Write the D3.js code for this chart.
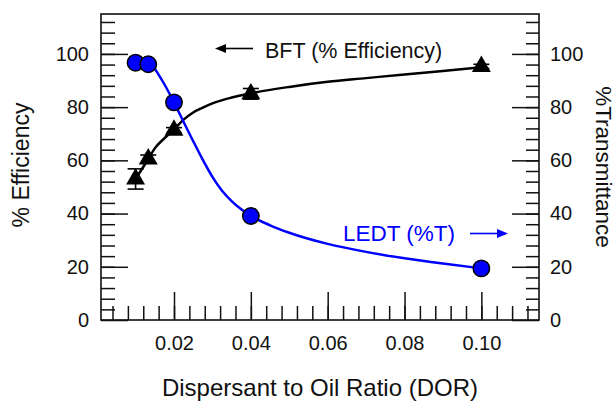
<!DOCTYPE html>
<html>
<head>
<meta charset="utf-8">
<script src="https://cdn.jsdelivr.net/npm/d3@7"></script>
<style>
  body { margin: 0; background: #fff; }
  svg { display: block; font-family: "Liberation Sans", Arial, sans-serif; }
</style>
</head>
<body>
<svg id="chart" width="616" height="401"></svg>
<script>
// measured points
var dor = [0.010, 0.0133, 0.020, 0.040, 0.100];
var bft = [53, 60.5, 71.3, 85, 95.3];
var bftErr = [3.8, 1.5, 1.0, 2.0, 0.8];
var ledt = [96.7, 96.1, 81.8, 39.1, 19.4];

// fitted curves
var bftFitX = [0.010, 0.0133, 0.015, 0.0175, 0.020, 0.0225, 0.025, 0.0275, 0.030, 0.035, 0.040, 0.050, 0.060, 0.070, 0.080, 0.090, 0.100];
var bftFitY = [53, 60.5, 64.5, 68.3, 71.6, 75.3, 78, 79.8, 81.4, 83.6, 85.2, 87.6, 89.5, 90.9, 92.3, 93.6, 95.0];
var ledtFitX = [0.0150, 0.0175, 0.020, 0.0225, 0.025, 0.0275, 0.030, 0.0325, 0.035, 0.0375, 0.040, 0.045, 0.050, 0.060, 0.070, 0.080, 0.090, 0.100];
var ledtFitY = [94.5, 88.6, 81.8, 74.4, 67.2, 60.2, 53.8, 48.6, 44.7, 41.6, 39.1, 35.6, 32.8, 28.6, 25.6, 23.2, 21.2, 19.4];

var yTicks = [0, 20, 40, 60, 80, 100];
var xTicks = [0.02, 0.04, 0.06, 0.08, 0.10];
var xMinor = d3.range(1, 29).map(function(i) { return i * 0.004; });
var yMinor = d3.range(1, 29).map(function(i) { return i * 4; });

var pLeft = 101, pRight = 539, pTop = 14, pBottom = 320;
var ink = "#111";

var svg = d3.select("#chart");

var x = d3.scaleLinear().domain([0.001, 0.115]).range([pLeft, pRight]);
var y = d3.scaleLinear().domain([0, 115]).range([pBottom, pTop]);

// minor ticks (inside)
svg.append("g")
  .attr("transform", "translate(0," + pBottom + ")")
  .call(d3.axisBottom(x).tickValues(xMinor).tickSize(-14).tickFormat(""));
svg.append("g")
  .attr("transform", "translate(" + pLeft + ",0)")
  .call(d3.axisLeft(y).tickValues(yMinor).tickSize(-14).tickFormat(""));
svg.append("g")
  .attr("transform", "translate(" + pRight + ",0)")
  .call(d3.axisRight(y).tickValues(yMinor).tickSize(-13).tickFormat(""));

// major ticks
var xAxis = svg.append("g")
  .attr("transform", "translate(0," + pBottom + ")")
  .call(d3.axisBottom(x).tickValues(xTicks).tickSize(-28).tickPadding(0)
    .tickFormat(d3.format(".2f")));
xAxis.selectAll("text").attr("y", 30).attr("dy", 0);

var yAxisL = svg.append("g")
  .attr("transform", "translate(" + pLeft + ",0)")
  .call(d3.axisLeft(y).tickValues(yTicks).tickSize(-27).tickFormat(d3.format("d")));
yAxisL.selectAll("text").attr("x", -12);

var yAxisR = svg.append("g")
  .attr("transform", "translate(" + pRight + ",0)")
  .call(d3.axisRight(y).tickValues(yTicks).tickSize(-27).tickFormat(d3.format("d")));
yAxisR.selectAll("text").attr("x", 11);

svg.selectAll(".domain").remove();
svg.selectAll(".tick line").attr("stroke", ink).attr("stroke-width", 1.5);
svg.selectAll(".tick text")
  .attr("fill", ink)
  .style("font-size", "20px")
  .style("font-family", "Liberation Sans, Arial, sans-serif");

// frame
svg.append("rect")
  .attr("x", pLeft).attr("y", pTop)
  .attr("width", pRight - pLeft).attr("height", pBottom - pTop)
  .attr("fill", "none").attr("stroke", ink).attr("stroke-width", 1.6);

// axis titles
svg.append("text")
  .attr("x", (pLeft + pRight) / 2).attr("y", 396)
  .attr("text-anchor", "middle")
  .style("font-size", "24px").attr("fill", ink)
  .text("Dispersant to Oil Ratio (DOR)");

svg.append("text")
  .attr("transform", "translate(29,165) rotate(-90)")
  .attr("text-anchor", "middle")
  .style("font-size", "23px").attr("fill", ink)
  .text("% Efficiency");

svg.append("text")
  .attr("transform", "translate(596,167) rotate(90)")
  .attr("text-anchor", "middle")
  .style("font-size", "22.5px").attr("fill", ink)
  .text("%Transmittance");

// fitted curves
var line = d3.line()
  .x(function(d) { return x(d[0]); })
  .y(function(d) { return y(d[1]); })
  .curve(d3.curveMonotoneX);

svg.append("path")
  .datum(d3.zip(bftFitX, bftFitY))
  .attr("d", line)
  .attr("fill", "none").attr("stroke", "#000").attr("stroke-width", 2.5);

svg.append("path")
  .datum(d3.zip(ledtFitX, ledtFitY))
  .attr("d", line)
  .attr("fill", "none").attr("stroke", "#0000ff").attr("stroke-width", 2.5);

// error bars
var bftData = dor.map(function(d, i) { return { x: d, y: bft[i], e: bftErr[i] }; });
var eb = svg.append("g").attr("stroke", "#000").attr("stroke-width", 1.6);
bftData.forEach(function(d) {
  eb.append("line")
    .attr("x1", x(d.x)).attr("x2", x(d.x))
    .attr("y1", y(d.y - d.e)).attr("y2", y(d.y + d.e));
  [d.y - d.e, d.y + d.e].forEach(function(v) {
    eb.append("line")
      .attr("x1", x(d.x) - 8).attr("x2", x(d.x) + 8)
      .attr("y1", y(v)).attr("y2", y(v));
  });
});

// BFT triangles
svg.append("g").selectAll("path")
  .data(bftData)
  .enter().append("path")
  .attr("transform", function(d) { return "translate(" + x(d.x) + "," + y(d.y) + ")"; })
  .attr("d", d3.symbol().type(d3.symbolTriangle).size(155))
  .attr("fill", "#000");

// LEDT circles
svg.append("g").selectAll("circle")
  .data(d3.zip(dor, ledt))
  .enter().append("circle")
  .attr("cx", function(d) { return x(d[0]); })
  .attr("cy", function(d) { return y(d[1]); })
  .attr("r", 8.2)
  .attr("fill", "#0000ff")
  .attr("stroke", "#000").attr("stroke-width", 1.5);

// annotations
function arrow(x1, x2, yy, color) {
  var dir = x2 > x1 ? 1 : -1;
  svg.append("line")
    .attr("x1", x1).attr("x2", x2 - dir * 8)
    .attr("y1", yy).attr("y2", yy)
    .attr("stroke", color).attr("stroke-width", 1.6);
  svg.append("path")
    .attr("d", "M" + x2 + "," + yy + "L" + (x2 - dir * 11) + "," + (yy - 4.5) +
      "L" + (x2 - dir * 11) + "," + (yy + 4.5) + "Z")
    .attr("fill", color);
}

svg.append("text")
  .attr("x", 265).attr("y", 58)
  .style("font-size", "21.5px").attr("fill", ink)
  .text("BFT (% Efficiency)");
arrow(253, 215, 48.5, "#000");

svg.append("text")
  .attr("x", 343).attr("y", 241)
  .style("font-size", "22.5px").attr("fill", "#0000ff")
  .text("LEDT (%T)");
arrow(470, 508, 233.5, "#0000ff");
</script>
</body>
</html>
